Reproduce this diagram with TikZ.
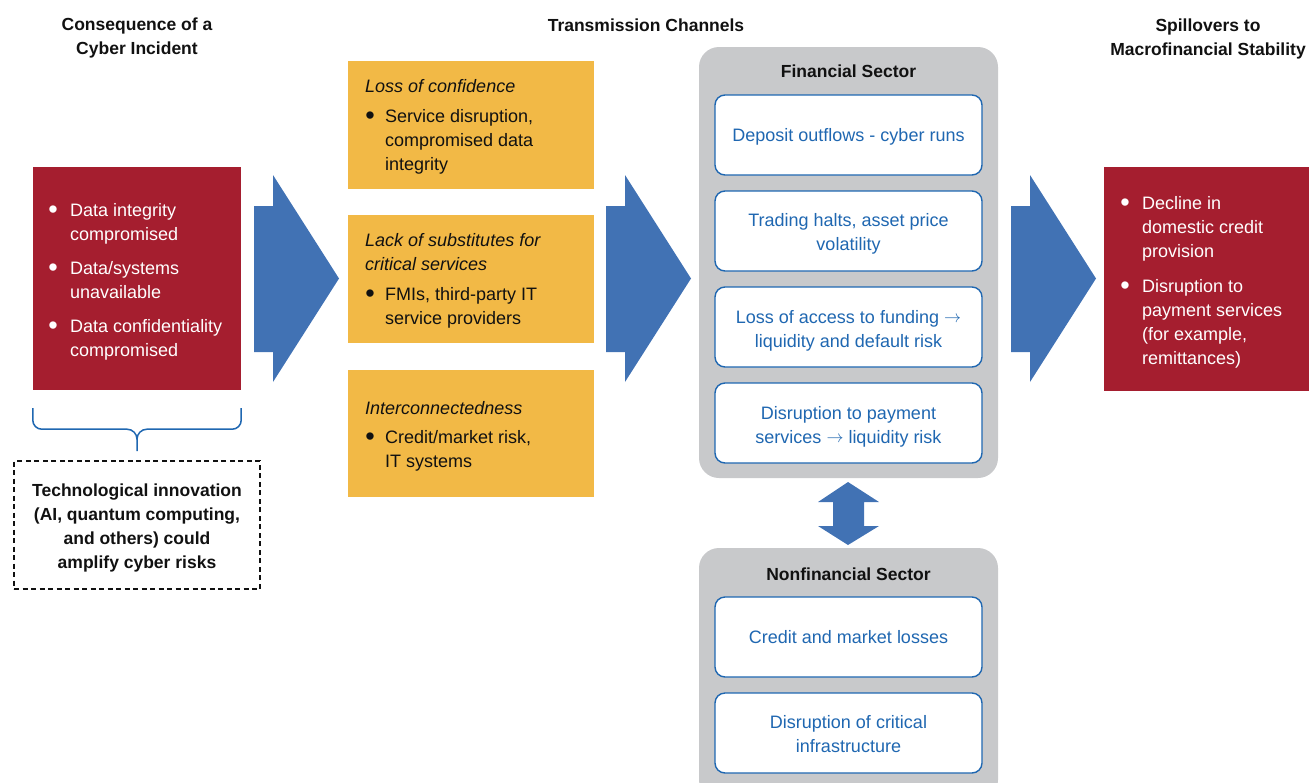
\documentclass[tikz,border=0pt]{standalone}
\usepackage{fontspec}
\setmainfont{Liberation Sans}
\usetikzlibrary{calc}
\definecolor{cred}{HTML}{A51E2F}
\definecolor{cyellow}{HTML}{F2B946}
\definecolor{cgrey}{HTML}{C8C9CB}
\definecolor{carrow}{HTML}{4172B4}
\definecolor{ctext}{HTML}{1F67B1}
\definecolor{cink}{HTML}{111111}
\newcommand\linesC[1]{\begin{tabular}[t]{@{}c@{}}#1\end{tabular}}
\newcommand\bul{\makebox[6.3pt][c]{\raisebox{-2.2pt}{\fontsize{27}{24}\selectfont\textbullet}}}
\newcommand\rarr{\raisebox{0.5pt}{\resizebox{17pt}{!}{$\rightarrow$}}}
\begin{document}
\begin{tikzpicture}[x=1pt,y=-1pt,
  body/.style={font=\fontsize{18}{24}\selectfont, inner sep=0pt},
  heading/.style={font=\fontsize{17.5}{24}\selectfont\bfseries, inner sep=0pt, text=cink},
  redbox/.style={fill=cred, inner sep=0pt},
  ybox/.style={fill=cyellow, inner sep=0pt, minimum width=246pt},
  gbox/.style={fill=cgrey, inner sep=0pt, rounded corners=20pt, minimum width=299pt},
  wbox/.style={fill=white, draw=ctext, line width=1.4pt, rounded corners=10pt, inner sep=0pt, minimum width=267pt, minimum height=80pt},
  wtext/.style={body, text=ctext, anchor=base},
  dbox/.style={draw=cink, dash pattern=on 5pt off 3.5pt, line width=1.2pt, inner sep=0pt, minimum width=246pt, minimum height=128pt},
  blockarrow/.pic={\fill[carrow] (0,206) -- (19,206) -- (19,175) -- (85,278.5) -- (19,382) -- (19,352) -- (0,352) -- cycle;}
]
\clip (0,0) rectangle (1309,782);

% titles
\node[heading, anchor=base] (t1) at (137,30.7) {\linesC{Consequence of a\\Cyber Incident}};
\node[heading, anchor=base] (t2) at (646,31) {Transmission Channels};
\node[heading, anchor=base] (t3) at (1208,31) {\linesC{Spillovers to\\Macrofinancial Stability}};

% left red box
\node[redbox, minimum width=208pt, minimum height=223pt] (cons) at (137,278.5) {};
\node[body, text=white, anchor=base west] (consT) at (49.85,216) {\begin{tabular}[t]{@{}l@{\hspace{13.85pt}}l@{}}\bul & Data integrity\\ & compromised\\[10pt] \bul & Data/systems\\ & unavailable\\[10pt] \bul & Data confidentiality\\ & compromised\end{tabular}};

% brace
\draw[ctext, line width=1.5pt]
  ($(cons.south west)+(0,18)$) -- ($(cons.south west)+(0,30)$)
  to[out=-90,in=180] ($(cons.south west)+(9,39)$) -- ($(cons.south)+(-10,39)$)
  to[out=0,in=90] ($(cons.south)+(0,49)$) -- ($(cons.south)+(0,61)$);
\draw[ctext, line width=1.5pt]
  ($(cons.south)+(0,49)$) to[out=90,in=180] ($(cons.south)+(10,39)$)
  -- ($(cons.south east)+(-9,39)$) to[out=0,in=-90] ($(cons.south east)+(0,30)$)
  -- ($(cons.south east)+(0,18)$);

% dashed box
\node[dbox] (tech) at (137,525) {};
\node[heading, anchor=base] (techT) at (137,496.7) {\linesC{Technological innovation\\(AI, quantum computing,\\and others) could\\amplify cyber risks}};

% block arrows
\pic at (254,0) {blockarrow};
\pic at (606,0) {blockarrow};
\pic at (1011,0) {blockarrow};

% yellow boxes
\node[ybox, minimum height=128pt] (y1) at (471,125) {};
\node[ybox, minimum height=128pt] (y2) at (471,279) {};
\node[ybox, minimum height=127pt] (y3) at (471,433.5) {};
\node[body, text=cink, anchor=base west] (y1T) at (365,92.7) {\begin{tabular}[t]{@{\hspace{1.85pt}}l@{\hspace{11.85pt}}l@{}}\multicolumn{2}{@{}l@{}}{\itshape Loss of confidence}\\[6pt] \bul & Service disruption,\\ & compromised data\\ & integrity\end{tabular}};
\node[body, text=cink, anchor=base west] (y2T) at (365,246.7) {\begin{tabular}[t]{@{\hspace{1.85pt}}l@{\hspace{11.85pt}}l@{}}\multicolumn{2}{@{}l@{}}{\itshape Lack of substitutes for}\\ \multicolumn{2}{@{}l@{}}{\itshape critical services}\\[6pt] \bul & FMIs, third-party IT\\ & service providers\end{tabular}};
\node[body, text=cink, anchor=base west] (y3T) at (365,414.3) {\begin{tabular}[t]{@{\hspace{1.85pt}}l@{\hspace{11.85pt}}l@{}}\multicolumn{2}{@{}l@{}}{\itshape Interconnectedness}\\[5pt] \bul & Credit/market risk,\\ & IT systems\end{tabular}};

% financial sector
\node[gbox, minimum height=431pt] (fin) at (848.5,262.5) {};
\node[heading, anchor=base] (finT) at (848.5,77.7) {Financial Sector};
\node[wbox] (f1) at (848.5,135) {};
\node[wbox] (f2) at (848.5,231) {};
\node[wbox] (f3) at (848.5,327) {};
\node[wbox] (f4) at (848.5,423) {};
\node[wtext] (f1T) at (848.5,141.7) {Deposit outflows - cyber runs};
\node[wtext] (f2T) at (848.5,226.7) {\linesC{Trading halts, asset price\\volatility}};
\node[wtext] (f3T) at (848.5,323.3) {\linesC{Loss of access to funding \rarr\\liquidity and default risk}};
\node[wtext] (f4T) at (848.5,419.3) {\linesC{Disruption to payment\\services \rarr{} liquidity risk}};

% double arrow
\fill[carrow] (848,482) -- (879,502) -- (864,502) -- (864,526) -- (879,526) -- (848,545)
  -- (818,526) -- (833,526) -- (833,502) -- (818,502) -- cycle;

% nonfinancial sector
\node[gbox, minimum height=252pt] (nfin) at (848.5,674) {};
\node[heading, anchor=base] (nfinT) at (848.5,580) {Nonfinancial Sector};
\node[wbox] (n1) at (848.5,637) {};
\node[wbox] (n2) at (848.5,733) {};
\node[wtext] (n1T) at (848.5,643.3) {Credit and market losses};
\node[wtext] (n2T) at (848.5,728.3) {\linesC{Disruption of critical\\infrastructure}};

% right red box
\node[redbox, minimum width=210pt, minimum height=224pt] (spill) at (1209,279) {};
\node[body, text=white, anchor=base west] (spillT) at (1121.85,209) {\begin{tabular}[t]{@{}l@{\hspace{13.85pt}}l@{}}\bul & Decline in\\ & domestic credit\\ & provision\\[11pt] \bul & Disruption to\\ & payment services\\ & (for example,\\ & remittances)\end{tabular}};
\end{tikzpicture}
\end{document}
